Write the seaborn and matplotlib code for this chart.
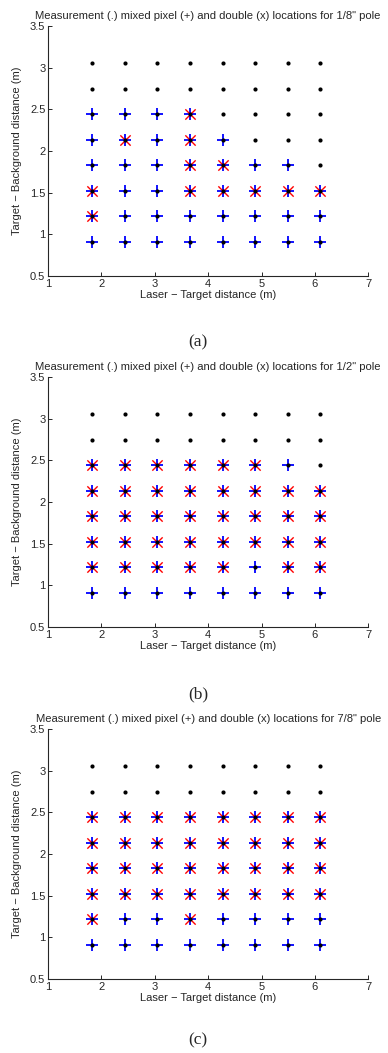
import pandas as pd
import matplotlib.pyplot as plt
import seaborn as sns

# grid positions (m)
laser_target = [1.83, 2.44, 3.05, 3.66, 4.27, 4.88, 5.49, 6.10]
target_bg = [3.05, 2.74, 2.44, 2.13, 1.83, 1.52, 1.22, 0.91]  # rows, top to bottom

# '.' measurement only, '+' mixed pixel, 'x' mixed pixel and double
grid_a = ["........",
          "........",
          "+++x....",
          "+x+x+...",
          "+++xx++.",
          "x++xxxxx",
          "x+++++++",
          "++++++++"]
grid_b = ["........",
          "........",
          "xxxxxx+.",
          "xxxxxxxx",
          "xxxxxxxx",
          "xxxxxxxx",
          "xxxxx+xx",
          "++++++++"]
grid_c = ["........",
          "........",
          "xxxxxxxx",
          "xxxxxxxx",
          "xxxxxxxx",
          "xxxxxxxx",
          "x++x++++",
          "++++++++"]

poles = ['1/8"', '1/2"', '7/8"']
captions = ['(a)', '(b)', '(c)']
x_ticks = [1, 2, 3, 4, 5, 6, 7]
y_ticks = [0.5, 1, 1.5, 2, 2.5, 3, 3.5]


def grid_to_df(grid):
    rows = []
    for y, line in zip(target_bg, grid):
        for x, c in zip(laser_target, line):
            rows.append({'x': x, 'y': y, 'mixed': c in '+x', 'double': c == 'x'})
    return pd.DataFrame(rows)


sns.set_style('ticks')
plt.rcParams['font.family'] = ['Liberation Sans', 'DejaVu Sans']
plt.rcParams['xtick.direction'] = 'in'
plt.rcParams['ytick.direction'] = 'in'

fig = plt.figure(figsize=(3.88, 10.53), dpi=100)

bottoms = [0.738, 0.4046, 0.0703]
cap_y = [0.675, 0.341, 0.0115]

for grid, pole, cap, b, cy in zip([grid_a, grid_b, grid_c], poles, captions, bottoms, cap_y):
    ax = fig.add_axes([0.124, b, 0.825, 0.2374])
    df = grid_to_df(grid)

    # mixed pixels, doubles, then all measurements on top
    sns.scatterplot(data=df[df['mixed']], x='x', y='y', marker='+', s=85,
                    color='blue', linewidth=1.3, ax=ax, zorder=2)
    sns.scatterplot(data=df[df['double']], x='x', y='y', marker='x', s=55,
                    color='red', linewidth=1.0, ax=ax, zorder=3)
    sns.scatterplot(data=df, x='x', y='y', marker='o', s=9, color='black',
                    edgecolor='black', linewidth=0, ax=ax, zorder=4)

    ax.set_xlim(1, 7)
    ax.set_ylim(0.5, 3.5)
    ax.set_xticks(x_ticks)
    ax.set_xticklabels([str(t) for t in x_ticks])
    ax.set_yticks(y_ticks)
    ax.set_yticklabels(['0.5', '1', '1.5', '2', '2.5', '3', '3.5'])
    ax.tick_params(labelsize=8, length=3, width=0.7, pad=2)
    for s in ['left', 'bottom']:
        ax.spines[s].set_linewidth(0.8)
    sns.despine(ax=ax)

    ax.set_title('Measurement (.) mixed pixel (+) and double (x) locations for ' + pole + ' pole',
                 fontsize=8.1, pad=5)
    ax.set_xlabel('Laser \u2212 Target distance (m)', fontsize=8, labelpad=1)
    ax.set_ylabel('Target \u2212 Background distance (m)', fontsize=8, labelpad=6)

    fig.text(0.51, cy, cap, fontsize=12.5, family='Liberation Serif', ha='center', va='center')

fig.savefig('out.png', dpi=100)
